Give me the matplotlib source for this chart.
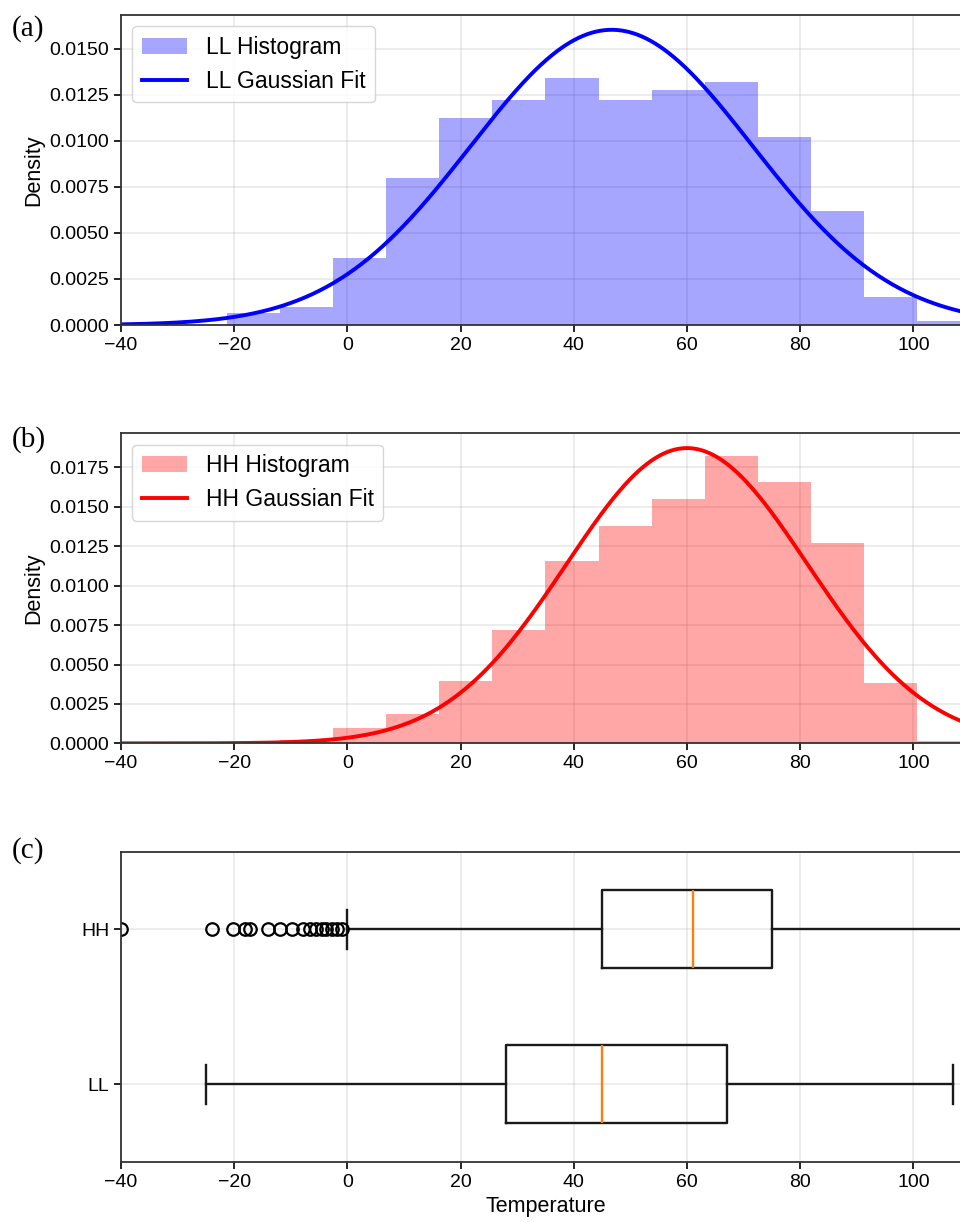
import numpy as np
import matplotlib
matplotlib.use("Agg")
import matplotlib.pyplot as plt

plt.rcParams["font.family"] = ["Liberation Sans", "DejaVu Sans"]

# =============================
# Data
# =============================
bin_edges = np.linspace(-40, 110, 17)

ll_density = [0.0, 0.0, 0.00064, 0.00100, 0.00362, 0.00797, 0.01123, 0.01223,
              0.01340, 0.01223, 0.01277, 0.01317, 0.01023, 0.00620, 0.00154, 0.00023]
hh_density = [0.00002, 0.00003, 0.00010, 0.00020, 0.00099, 0.00184, 0.00397, 0.00718,
              0.01156, 0.01380, 0.01553, 0.01822, 0.01655, 0.01272, 0.00380, 0.00015]

ll_mean, ll_std = 46.7, 24.9
hh_mean, hh_std = 60.0, 21.3

box_labels = ["LL", "HH"]
box_q1 = [28.0, 45.0]
box_med = [45.0, 61.0]
box_q3 = [67.0, 75.0]
box_whislo = [-25.0, 0.0]
box_whishi = [107.0, 110.0]
box_fliers = [
    [],
    [-40.0, -24.0, -20.2, -18.1, -17.2, -14.0, -11.9, -9.8, -7.8, -6.6,
     -5.6, -4.5, -3.7, -2.8, -1.9, -1.0],
]

xticks = [-40, -20, 0, 20, 40, 60, 80, 100]

TICK_FS = 14
LABEL_FS = 15.5
LEGEND_FS = 16.5


def gaussian(x, mu, sd):
    return np.exp(-0.5 * ((x - mu) / sd) ** 2) / (sd * np.sqrt(2 * np.pi))


def style_axes(ax):
    for s in ax.spines.values():
        s.set_linewidth(1.3)
        s.set_color("0.2")
    ax.tick_params(labelsize=TICK_FS, length=5, width=1.2)
    ax.set_xticks(xticks)
    ax.grid(True, alpha=0.3, linewidth=1.1)
    ax.set_axisbelow(True)


fig = plt.figure(figsize=(9.6, 12.22), dpi=100)

x = np.linspace(-40, 110, 600)

# =============================
# (a) LL histogram
# =============================
ax1 = fig.add_axes([0.1260, 0.7340, 0.8844, 0.2537])
ax1.hist(bin_edges[:-1], bins=bin_edges, weights=ll_density,
         color="blue", alpha=0.35, label="LL Histogram")
ax1.plot(x, gaussian(x, ll_mean, ll_std), color="blue", lw=2.8, label="LL Gaussian Fit")
ax1.set_xlim(-40, 110)
ax1.set_ylim(0, None)
ax1.set_yticks([0, 0.0025, 0.005, 0.0075, 0.01, 0.0125, 0.015])
ax1.yaxis.set_major_formatter(matplotlib.ticker.FormatStrFormatter("%.4f"))
ax1.set_ylabel("Density", fontsize=LABEL_FS)
ax1.legend(loc="upper left", fontsize=LEGEND_FS)
style_axes(ax1)

# =============================
# (b) HH histogram
# =============================
ax2 = fig.add_axes([0.1260, 0.3917, 0.8844, 0.2537])
ax2.hist(bin_edges[:-1], bins=bin_edges, weights=hh_density,
         color="red", alpha=0.35, label="HH Histogram")
ax2.plot(x, gaussian(x, hh_mean, hh_std), color="red", lw=2.8, label="HH Gaussian Fit")
ax2.set_xlim(-40, 110)
ax2.set_ylim(0, None)
ax2.set_yticks([0, 0.0025, 0.005, 0.0075, 0.01, 0.0125, 0.015, 0.0175])
ax2.yaxis.set_major_formatter(matplotlib.ticker.FormatStrFormatter("%.4f"))
ax2.set_ylabel("Density", fontsize=LABEL_FS)
ax2.legend(loc="upper left", fontsize=LEGEND_FS)
style_axes(ax2)

# =============================
# (c) Box plots
# =============================
ax3 = fig.add_axes([0.1260, 0.0493, 0.8844, 0.2537])
stats = []
for i in range(len(box_labels)):
    stats.append(dict(label=box_labels[i], q1=box_q1[i], med=box_med[i], q3=box_q3[i],
                      whislo=box_whislo[i], whishi=box_whishi[i], fliers=box_fliers[i]))
ax3.bxp(stats, orientation="horizontal", widths=0.5,
        boxprops=dict(linewidth=1.7, color="0.1"),
        whiskerprops=dict(linewidth=1.7, color="0.1"),
        capprops=dict(linewidth=1.7, color="0.1"),
        medianprops=dict(linewidth=1.7, color="#ff7f0e"),
        flierprops=dict(marker="o", markersize=9, markerfacecolor="none",
                        markeredgecolor="black", markeredgewidth=1.6))
ax3.set_xlim(-40, 110)
ax3.set_ylim(0.5, 2.5)
ax3.set_xlabel("Temperature", fontsize=LABEL_FS)
style_axes(ax3)

# panel labels
for lab, yy in [("(a)", 0.977), ("(b)", 0.640), ("(c)", 0.304)]:
    fig.text(0.012, yy, lab, fontsize=21, family="Liberation Serif", va="center", ha="left")

fig.savefig("out.png", dpi=100)
